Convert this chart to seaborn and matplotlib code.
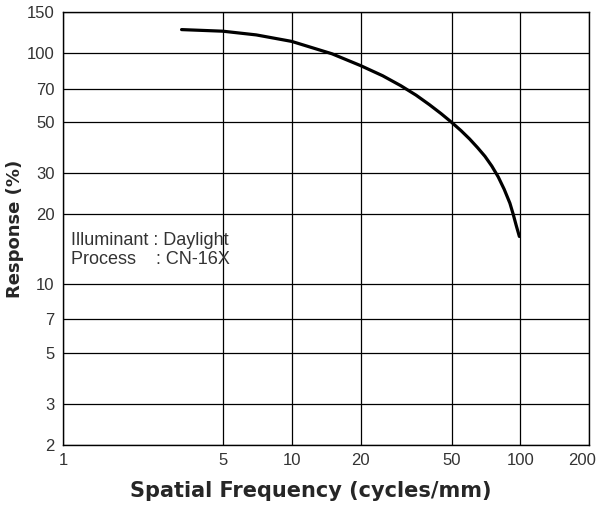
import numpy as np
import pandas as pd
import seaborn as sns
import matplotlib.pyplot as plt
import matplotlib.transforms as mtransforms
from matplotlib.ticker import FixedLocator, FixedFormatter, NullLocator

# MTF curve
freq = [3.3, 5, 7, 10, 15, 20, 25, 30, 35, 40, 45, 50, 55, 60, 65, 70, 75, 80, 85, 90, 93, 96, 99]
response = [126, 124, 119.5, 112, 99, 88, 79.5, 72, 65.5, 59.6, 54.5, 50, 46, 42.3, 38.8, 35.6,
            32.3, 29, 25.6, 22.3, 20, 17.8, 16]

x_ticks = [1, 5, 10, 20, 50, 100, 200]
y_ticks = [2, 3, 5, 7, 10, 20, 30, 50, 70, 100, 150]

df = pd.DataFrame({'freq': freq, 'response': response})

sns.set_style("white")
plt.rcParams['font.family'] = ['Liberation Sans', 'DejaVu Sans']

fig = plt.figure(figsize=(6, 5.05), dpi=100)
ax = fig.add_axes([0.105, 0.119, 0.877, 0.857])

sns.lineplot(data=df, x='freq', y='response', color='black', linewidth=2.3, ax=ax)

ax.set_xscale('log')
ax.set_yscale('log')
ax.set_xlim(1, 200)
ax.set_ylim(2, 150)

ax.xaxis.set_major_locator(FixedLocator(x_ticks))
ax.xaxis.set_major_formatter(FixedFormatter([str(t) for t in x_ticks]))
ax.xaxis.set_minor_locator(NullLocator())
ax.yaxis.set_major_locator(FixedLocator(y_ticks))
ax.yaxis.set_major_formatter(FixedFormatter([str(t) for t in y_ticks]))
ax.yaxis.set_minor_locator(NullLocator())

ax.grid(True, which='major', color='black', linewidth=0.9)
for s in ax.spines.values():
    s.set_color('black')
    s.set_linewidth(1.0)
ax.tick_params(axis='both', length=0, labelsize=12, colors='#333333', pad=6)

# last x label sits at the figure edge, nudge it left a bit
last = ax.get_xticklabels()[-1]
last.set_transform(last.get_transform() + mtransforms.ScaledTranslation(-5 / 72, 0, fig.dpi_scale_trans))

ax.set_xlabel('Spatial Frequency (cycles/mm)', fontsize=15, fontweight='bold', family='DejaVu Sans')
ax.xaxis.set_label_coords(0.47, -0.084)
ax.set_ylabel('Response (%)', fontsize=13, fontweight='bold', family='DejaVu Sans', labelpad=2)

ax.text(1.08, 15.3, 'Illuminant : Daylight', fontsize=13, color='#333333', va='center')
ax.text(1.08, 12.7, 'Process    : CN-16X', fontsize=13, color='#333333', va='center')

fig.savefig('out.png', dpi=100)
